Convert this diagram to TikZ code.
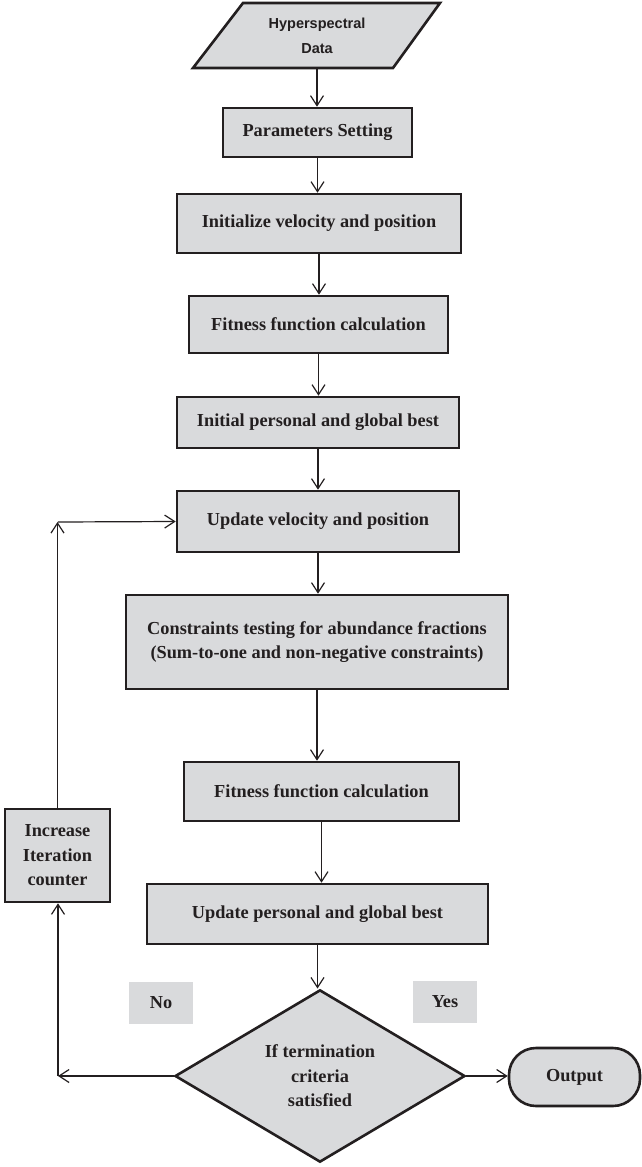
\documentclass[tikz,border=0pt]{standalone}
\usepackage{fontspec}
\setmainfont{Liberation Serif}
\newfontfamily\datafont{Liberation Sans}
\usepackage{tikz}
\usetikzlibrary{arrows.meta}
\usetikzlibrary{positioning}
\usetikzlibrary{calc}
\usetikzlibrary{shapes.geometric}

\definecolor{boxgray}{HTML}{D9DADC}
\definecolor{inkdark}{HTML}{231F20}

\begin{document}
\begin{tikzpicture}[x=1pt, y=-1pt,
    >={Straight Barb[length=10pt,width=13pt]},
    flowbox/.style = {draw = inkdark, fill = boxgray, line width = 2.6pt, inner sep = 0, align = center,
                      font = \fontsize{18.3}{24.5}\selectfont\bfseries, text = inkdark},
    flowlink/.style = {->, draw = inkdark, line width = 1.2pt},
    answer/.style = {fill = boxgray, inner sep = 0, minimum width = 64, minimum height = 42,
                     font = \fontsize{18.3}{24.5}\selectfont\bfseries, text = inkdark}]

        \useasboundingbox (0,0) rectangle (641,1167);

        % draw the input data
        \draw[draw = inkdark, fill = boxgray, line width = 2.6pt] (193,68) -- (243,3) -- (440,3) -- (393,68) -- cycle;
        \node[inner sep = 0, minimum height = 65, align = center, text = inkdark,
              font = \datafont\fontsize{14.5}{25}\selectfont\bfseries] (data) at (317,35.5) {Hyperspectral\\Data};

        % draw the steps
        \node[flowbox, minimum width = 189, minimum height = 49] (param) at (317.5,132.5) {Parameters Setting};
        \node[flowbox, minimum width = 284, minimum height = 59] (init) at (319,223.5) {Initialize velocity and position};
        \node[flowbox, minimum width = 259, minimum height = 57] (fit_one) at (318.5,324.5) {Fitness function calculation};
        \node[flowbox, minimum width = 282, minimum height = 51] (init_best) at (318,422.5) {Initial personal and global best};
        \node[flowbox, minimum width = 282, minimum height = 61] (update_vel) at (318,521.5) {Update velocity and position};
        \node[flowbox, minimum width = 382, minimum height = 94] (constraint) at (317,642) {Constraints testing for abundance fractions\\(Sum-to-one and non-negative constraints)};
        \node[flowbox, minimum width = 275, minimum height = 59] (fit_two) at (321.5,791.5) {Fitness function calculation};
        \node[flowbox, minimum width = 341, minimum height = 60] (update_best) at (317.5,914) {Update personal and global best};
        \node[flowbox, minimum width = 105, minimum height = 93] (iter) at (57.5,855.5) {Increase\\Iteration\\counter};

        % draw the decision and the output
        \node[flowbox, diamond, minimum width = 290, minimum height = 168] (check) at (320,1076) {If termination\\criteria\\satisfied};
        \node[flowbox, rounded corners = 27, minimum width = 131, minimum height = 58] (output) at (574.5,1077) {Output};

        % draw the answers
        \node[answer] (no) at (161,1002.5) {No};
        \node[answer] (yes) at (445,1002) {Yes};

        % draw the arrows
        \draw[flowlink] (data.south) -- (data.south |- param.north);
        \draw[flowlink] (param.south) -- (param.south |- init.north);
        \draw[flowlink] (init.south) -- (init.south |- fit_one.north);
        \draw[flowlink] (fit_one.south) -- (fit_one.south |- init_best.north);
        \draw[flowlink] (init_best.south) -- (init_best.south |- update_vel.north);
        \draw[flowlink] (update_vel.south) -- (update_vel.south |- constraint.north);
        \draw[flowlink] (constraint.south) -- (constraint.south |- fit_two.north);
        \draw[flowlink] (fit_two.south) -- (fit_two.south |- update_best.north);
        \draw[flowlink] (update_best.south) -- (update_best.south |- check.north);
        \draw[flowlink] (check.east) -- (check.east -| output.west);

        % draw the loop
        \coordinate (loop_top) at (58,522);
        \coordinate (loop_bottom) at (58,1076);
        \draw[flowlink] (check.west) -- (loop_bottom);
        \draw[flowlink] (loop_bottom) -- (loop_bottom |- iter.south);
        \draw[flowlink] (iter.north) -- (iter.north |- loop_top);
        \draw[flowlink] (loop_top) -- (update_vel.west);

      \end{tikzpicture}
\end{document}
